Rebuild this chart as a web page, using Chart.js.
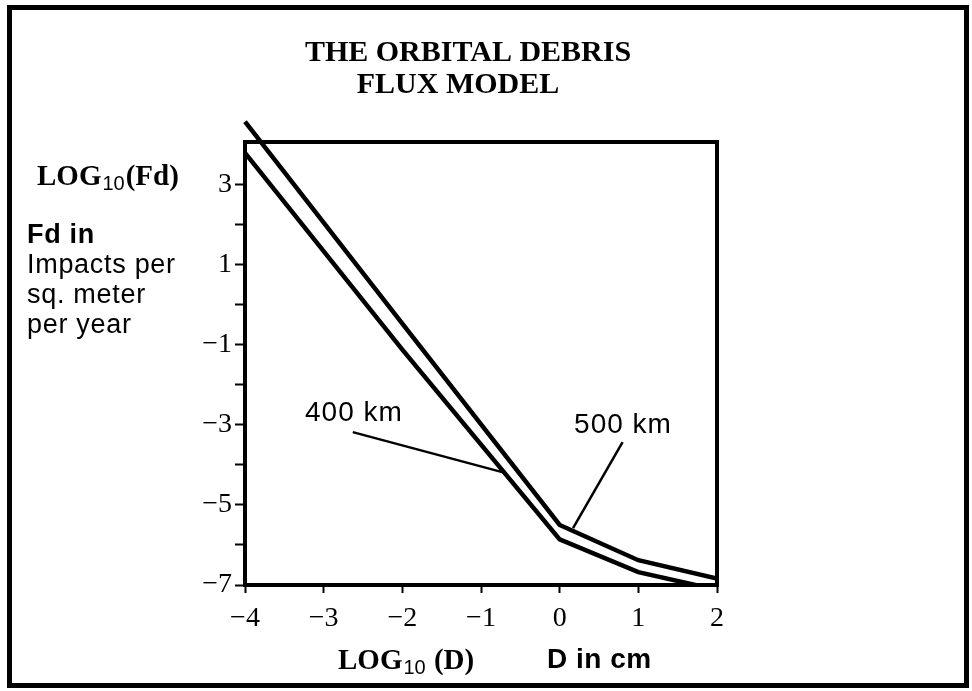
<!DOCTYPE html>
<html>
<head>
<meta charset="utf-8">
<script src="https://cdn.jsdelivr.net/npm/chart.js@4.4.1/dist/chart.umd.min.js"></script>
<style>
  html, body { margin: 0; padding: 0; background: #fff; }
  canvas { display: block; }
</style>
</head>
<body>
<canvas id="fluxChart" width="972" height="691"></canvas>
<script>
// values (log10 of D in cm vs log10 of flux)
const logD = [-4, -2, 0, 1, 2];
const flux500 = [4.58, -0.47, -5.5, -6.38, -6.84];
const flux400 = [3.8, -1.12, -5.86, -6.68, -7.12];
const xTicks = [-4, -3, -2, -1, 0, 1, 2];
const yTicks = [-7, -6, -5, -4, -3, -2, -1, 0, 1, 2, 3];
const yLabels = [3, 1, -1, -3, -5, -7];

// callouts: text anchor and leader line, in data units
const callout400 = { text: '400 km', at: [-2.615, -2.7], lineX: [-2.63, -0.73], lineY: [-3.18, -4.18] };
const callout500 = { text: '500 km', at: [0.805, -3.0], lineX: [0.8, 0.17], lineY: [-3.43, -5.58] };

const minus = v => (v < 0 ? '\u2212' + Math.abs(v) : String(v));
const pts = (xs, ys) => xs.map((x, i) => ({ x: x, y: ys[i] }));

const SERIF = '"Liberation Serif", "Times New Roman", serif';
const SANS = '"Liberation Sans", Arial, sans-serif';

// draws "LOG" + subscript 10 + rest
function logText(c, x, y, rest, size) {
    c.textAlign = 'left';
    c.letterSpacing = '0px';
    c.font = 'bold ' + size + 'px ' + SERIF;
    c.fillText('LOG', x, y);
    x += c.measureText('LOG').width + 1;
    c.font = '20px ' + SANS;
    c.fillText('10', x, y + 6);
    x += c.measureText('10').width + 1;
    c.font = 'bold ' + size + 'px ' + SERIF;
    c.fillText(rest, x, y);
}

const decor = {
    id: 'decor',
    beforeDraw(chart) {
        const c = chart.ctx;
        c.save();
        c.fillStyle = '#fff';
        c.fillRect(0, 0, chart.width, chart.height);
        c.strokeStyle = '#000';
        c.lineWidth = 5;
        c.strokeRect(9.5, 7.5, 957, 678);
        c.restore();
    },
    afterDraw(chart) {
        const c = chart.ctx, a = chart.chartArea;
        const xs = chart.scales.x, ys = chart.scales.y;
        c.save();
        c.strokeStyle = '#000';
        c.lineWidth = 4;
        c.strokeRect(a.left, a.top, a.right - a.left, a.bottom - a.top);

        c.fillStyle = '#000';
        c.textBaseline = 'middle';
        c.textAlign = 'center';
        c.font = 'bold 30px ' + SERIF;
        c.fillText('THE ORBITAL DEBRIS', 468, 53);
        c.fillText('FLUX MODEL', 458, 85);

        // y axis title block
        logText(c, 37, 178, '(Fd)', 29);
        c.textAlign = 'left';
        c.letterSpacing = '0.7px';
        c.font = 'bold 27px ' + SANS;
        c.fillText('Fd in', 27, 236);
        c.font = '27px ' + SANS;
        c.fillText('Impacts per', 27, 266);
        c.fillText('sq. meter', 27, 296);
        c.fillText('per year', 27, 326);

        // x axis titles
        logText(c, 338, 662, ' (D)', 29);
        c.textAlign = 'left';
        c.letterSpacing = '0.5px';
        c.font = 'bold 28px ' + SANS;
        c.fillText('D in cm', 547, 660);

        // callout texts
        c.textAlign = 'center';
        c.letterSpacing = '1px';
        c.font = '28px ' + SANS;
        [callout400, callout500].forEach(o => {
            c.fillText(o.text, xs.getPixelForValue(o.at[0]), ys.getPixelForValue(o.at[1]));
        });
        c.restore();
    }
};

const lineStyle = {
    borderColor: '#000',
    pointRadius: 0,
    tension: 0,
    borderCapStyle: 'butt',
    borderJoinStyle: 'miter',
    clip: { left: 10, top: 40, right: 0, bottom: 0 }
};

new Chart(document.getElementById('fluxChart'), {
    type: 'line',
    data: {
        datasets: [
            Object.assign({ label: '500 km', data: pts(logD, flux500), borderWidth: 4.5 }, lineStyle),
            Object.assign({ label: '400 km', data: pts(logD, flux400), borderWidth: 4.5 }, lineStyle),
            Object.assign({ label: 'leader 400', data: pts(callout400.lineX, callout400.lineY), borderWidth: 2.5 }, lineStyle),
            Object.assign({ label: 'leader 500', data: pts(callout500.lineX, callout500.lineY), borderWidth: 2.5 }, lineStyle)
        ]
    },
    options: {
        responsive: false,
        animation: false,
        events: [],
        layout: { padding: { left: 185, top: 142, right: 255, bottom: 46 } },
        plugins: {
            legend: { display: false },
            tooltip: { enabled: false }
        },
        scales: {
            x: {
                type: 'linear',
                min: -4,
                max: 2,
                afterBuildTicks: s => { s.ticks = xTicks.map(v => ({ value: v })); },
                afterFit: s => { s.height = 60; },
                ticks: {
                    callback: v => minus(v),
                    font: { family: SERIF, size: 28 },
                    color: '#000',
                    padding: 9,
                    maxRotation: 0,
                    autoSkip: false
                },
                grid: { drawOnChartArea: false, drawTicks: true, tickLength: 8, tickWidth: 2, color: '#000' },
                border: { display: false }
            },
            y: {
                type: 'linear',
                min: -7,
                max: 4.07,
                afterBuildTicks: s => { s.ticks = yTicks.map(v => ({ value: v })); },
                afterFit: s => { s.width = 60; },
                ticks: {
                    callback: v => (yLabels.includes(v) ? minus(v) : ''),
                    font: { family: SERIF, size: 28 },
                    color: '#000',
                    padding: 3,
                    autoSkip: false
                },
                grid: { drawOnChartArea: false, drawTicks: true, tickLength: 10, tickWidth: 2, color: '#000' },
                border: { display: false }
            }
        }
    },
    plugins: [decor]
});
</script>
</body>
</html>
